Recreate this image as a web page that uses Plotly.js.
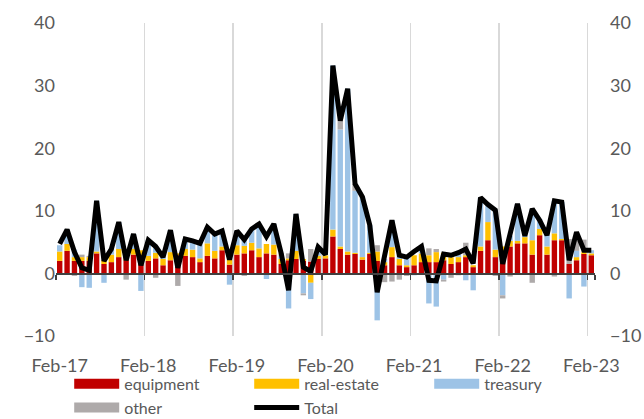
<!DOCTYPE html>
<html><head><meta charset="utf-8">
<script src="https://cdn.plot.ly/plotly-3.0.1.min.js"></script>
<style>html,body{margin:0;padding:0;background:#fff}#chart{width:644px;height:419px}</style>
</head><body><div id="chart"></div>
<script>
const months = [
 'Feb-17','Mar-17','Apr-17','May-17','Jun-17','Jul-17','Aug-17','Sep-17','Oct-17','Nov-17','Dec-17','Jan-18',
 'Feb-18','Mar-18','Apr-18','May-18','Jun-18','Jul-18','Aug-18','Sep-18','Oct-18','Nov-18','Dec-18','Jan-19',
 'Feb-19','Mar-19','Apr-19','May-19','Jun-19','Jul-19','Aug-19','Sep-19','Oct-19','Nov-19','Dec-19','Jan-20',
 'Feb-20','Mar-20','Apr-20','May-20','Jun-20','Jul-20','Aug-20','Sep-20','Oct-20','Nov-20','Dec-20','Jan-21',
 'Feb-21','Mar-21','Apr-21','May-21','Jun-21','Jul-21','Aug-21','Sep-21','Oct-21','Nov-21','Dec-21','Jan-22',
 'Feb-22','Mar-22','Apr-22','May-22','Jun-22','Jul-22','Aug-22','Sep-22','Oct-22','Nov-22','Dec-22','Jan-23',
 'Feb-23'];

const equipment = [
 2.0,3.6,2.0,2.0,2.0,3.2,1.5,1.8,2.6,2.1,3.0,2.1,
 2.0,2.4,1.3,2.1,2.9,2.8,2.6,1.8,2.8,2.4,3.7,1.4,
 3.0,3.2,3.7,2.6,3.2,3.0,1.5,2.1,2.3,2.0,1.9,2.3,
 2.4,5.9,3.9,3.0,3.1,2.2,3.1,2.0,1.3,2.6,1.3,1.0,
 1.3,1.8,1.8,1.8,2.1,1.5,1.8,2.6,1.0,3.6,5.3,2.6,
 3.5,4.3,4.8,4.8,3.0,6.1,3.0,5.3,5.3,1.5,2.1,3.1,
 2.9];
const realEstate = [
 1.5,1.1,0.6,0.6,0.6,0.3,0.6,1.2,1.3,0.8,0.9,1.6,
 0.8,0.9,1.0,1.3,0.3,1.1,1.2,0.6,2.0,1.2,0.6,0.8,
 1.5,1.2,1.2,1.4,1.5,1.6,0.8,0.3,1.3,0.3,-1.5,0.5,
 0.5,1.1,0.4,0.5,0.2,0.4,0.2,1.5,0.5,1.6,1.0,0.3,
 1.6,1.4,1.1,1.6,1.2,1.1,0.8,0.3,0.3,0.7,2.9,1.2,
 0.8,0.9,0.4,1.0,2.3,1.0,1.3,1.1,0.2,0.0,0.5,0.3,
 0.3];
const treasury = [
 1.0,2.3,1.2,-2.2,-2.3,8.1,-1.5,0.9,4.3,0.6,2.4,-2.8,
 2.5,1.0,0.3,3.5,0.0,1.6,1.4,2.4,2.6,2.7,2.5,-1.8,
 2.3,1.0,2.2,3.9,-0.9,3.3,0.5,-5.6,5.9,-3.2,-2.6,1.4,
 0.1,26.2,18.7,26.0,9.9,9.6,4.4,-7.5,0.5,4.3,0.6,1.3,
 -0.3,1.1,-4.8,-5.3,-1.0,0.6,1.0,-1.1,-2.7,7.8,2.7,6.3,
 -3.5,0.8,5.9,0.2,5.0,1.6,1.8,5.2,5.9,-4.0,1.0,-2.1,
 0.5];
const other = [
 0.0,0.0,-0.4,0.4,0.2,0.0,0.0,-0.1,0.0,-1.0,-0.2,0.0,
 0.0,-0.7,0.0,0.0,-2.0,0.0,0.0,0.0,0.0,-0.2,0.0,0.0,
 0.0,-0.4,0.0,0.0,0.0,0.0,0.4,0.8,0.0,-0.3,2.0,0.0,
 0.0,0.0,1.4,0.0,1.1,0.0,0.0,1.0,-1.4,-1.3,-1.0,-0.4,
 0.0,0.0,1.1,0.5,-0.3,-0.7,-0.3,2.0,0.0,0.0,0.0,-0.4,
 -0.5,-0.5,0.0,0.0,-1.5,0.0,0.0,-0.5,0.0,4.0,1.6,2.0,
 0.0];
const total = [
 4.7,7.0,3.4,0.9,0.5,11.6,2.0,3.9,8.2,2.1,6.3,1.3,
 5.3,4.3,2.6,6.9,0.9,5.5,5.2,4.8,7.4,6.3,6.8,2.2,
 6.8,5.4,7.1,7.9,5.9,7.9,3.2,-2.7,9.5,1.0,0.3,4.2,
 3.0,33.2,24.4,29.5,14.3,12.2,7.7,-3.0,2.8,8.5,2.9,2.6,
 3.5,4.3,-1.1,-1.2,3.1,2.9,3.3,3.9,1.6,12.1,11.0,10.1,
 1.5,6.0,11.1,6.0,10.3,8.5,6.1,11.6,11.4,2.1,6.6,3.7,
 3.7];

const yearTicks = ['Feb-17','Feb-18','Feb-19','Feb-20','Feb-21','Feb-22','Feb-23'];
const yTicks = [-10,0,10,20,30,40];

const seriesNames = ['equipment','real-estate','treasury','other'];
const seriesColors = ['#C00000','#FFC000','#9DC3E6','#AEAAAA'];
const seriesData = [equipment, realEstate, treasury, other];

const traces = [];
seriesData.forEach((d,i)=>{
  traces.push({type:'bar', x:months, y:d, name:seriesNames[i],
    marker:{color:seriesColors[i], line:{width:0}}, showlegend:false, hoverinfo:'x+y+name'});
});
seriesData.forEach((d,i)=>{
  traces.push({type:'scatter', mode:'lines', x:[null], y:[null], name:seriesNames[i],
    line:{color:seriesColors[i], width:12}, hoverinfo:'skip'});
});
traces.push({type:'scatter', mode:'lines', x:months, y:total, name:'Total', yaxis:'y2',
  line:{color:'#000000', width:5}});

const fam = 'Lato, "Liberation Sans", sans-serif';
const tickFont = {family:fam, size:18, color:'#595959'};

const layout = {
  width:644, height:419,
  paper_bgcolor:'#ffffff', plot_bgcolor:'#ffffff',
  margin:{l:56, r:49, t:23, b:83, autoexpand:false},
  barmode:'relative', bargap:0.27,
  showlegend:true,
  xaxis:{type:'category', range:[-0.5,72.5], tickson:'boundaries', tickmode:'array',
    tickvals:yearTicks, ticktext:yearTicks, tickangle:0, automargin:false,
    showgrid:true, gridcolor:'#D9D9D9', gridwidth:1.5,
    anchor:'free', position:0.2, showline:true, linecolor:'#404040', linewidth:1.5,
    ticks:'outside', ticklen:5, tickcolor:'#404040', tickwidth:1.5,
    tickfont:tickFont, ticklabelstandoff:75, zeroline:false, fixedrange:true},
  yaxis:{range:[-10,40], tickmode:'array', tickvals:yTicks, showgrid:false, zeroline:false,
    showline:false, ticks:'', tickfont:tickFont, automargin:false, fixedrange:true},
  yaxis2:{range:[-10,40], overlaying:'y', side:'right', tickmode:'array', tickvals:yTicks,
    showgrid:false, zeroline:false, showline:false, ticks:'', tickfont:tickFont,
    ticklabelstandoff:14, automargin:false, fixedrange:true},
  legend:{orientation:'h', x:0.0245, xanchor:'left', y:-0.0986, yanchor:'top',
    itemwidth:45, entrywidth:120, tracegroupgap:0, bgcolor:'rgba(0,0,0,0)',
    font:{family:fam, size:16, color:'#595959'}}
};

Plotly.newPlot('chart', traces, layout, {displayModeBar:false, staticPlot:true});
</script>
</body></html>
